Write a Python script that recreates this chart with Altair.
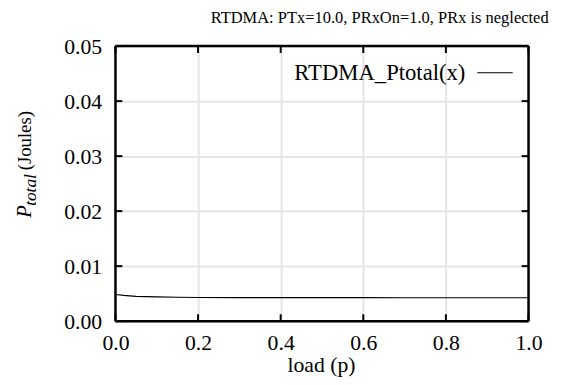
import altair as alt
import pandas as pd

loads = [0.0, 0.02, 0.05, 0.1, 0.15, 0.2, 0.3, 0.4, 0.5, 0.6, 0.7, 0.8, 0.9, 1.0]
ptotal = [0.00484, 0.00468, 0.00452, 0.0044, 0.00434, 0.0043, 0.00428, 0.00427, 0.00426, 0.00426, 0.00425, 0.00425, 0.00425, 0.00425]
x_ticks = [0.0, 0.2, 0.4, 0.6, 0.8, 1.0]
y_ticks = [0.0, 0.01, 0.02, 0.03, 0.04, 0.05]
title_text = "RTDMA: PTx=10.0, PRxOn=1.0, PRx is neglected"
legend_text = "RTDMA_Ptotal(x)"
x_title = "load (p)"

W, H = 419, 279
FONT = "Liberation Serif"

df = pd.DataFrame({"load": loads, "p": ptotal})
xs = alt.Scale(domain=[0, 1], nice=False)
ys = alt.Scale(domain=[0, 0.05], nice=False)

base = alt.Chart(df)
line = base.mark_line(color="black", strokeWidth=1.2).encode(
    x=alt.X("load:Q", scale=xs,
            axis=alt.Axis(values=x_ticks, format=".1f", title=None, grid=True,
                          gridColor="#e5e5e5", gridWidth=2, ticks=False, tickSize=0,
                          domain=False, labelFont=FONT, labelFontSize=22, labelColor="black",
                          labelPadding=12, labelFlush=False)),
    y=alt.Y("p:Q", scale=ys,
            axis=alt.Axis(values=y_ticks, format=".2f", title=None, grid=True,
                          gridColor="#e5e5e5", gridWidth=2, ticks=False, tickSize=0,
                          domain=False, labelFont=FONT, labelFontSize=22, labelColor="black",
                          labelPadding=14, labelFlush=False)),
)

xt = pd.DataFrame({"v": x_ticks})
yt = pd.DataFrame({"v": y_ticks})
xb = alt.Chart(xt).mark_rule(color="black", strokeWidth=2).encode(
    x=alt.X("v:Q", scale=xs), y=alt.value(H), y2=alt.value(H - 7))
xtop = alt.Chart(xt).mark_rule(color="black", strokeWidth=2).encode(
    x=alt.X("v:Q", scale=xs), y=alt.value(0), y2=alt.value(7))
yl = alt.Chart(yt).mark_rule(color="black", strokeWidth=2).encode(
    y=alt.Y("v:Q", scale=ys), x=alt.value(0), x2=alt.value(7))
yr = alt.Chart(yt).mark_rule(color="black", strokeWidth=2).encode(
    y=alt.Y("v:Q", scale=ys), x=alt.value(W), x2=alt.value(W - 7))

one = pd.DataFrame({"a": [1]})
def rule(x, x2, y, y2):
    return alt.Chart(one).mark_rule(color="black", strokeWidth=2.5).encode(
        x=alt.value(x), x2=alt.value(x2), y=alt.value(y), y2=alt.value(y2))
frame = [rule(0, W, 0, 0), rule(0, W, H, H), rule(0, 0, 0, H), rule(W, W, 0, H)]

def txt(s, x, y, size, style="normal", align="left", angle=0, baseline="alphabetic"):
    kw = dict(font=FONT, fontSize=size, fontStyle=style, align=align,
              baseline=baseline, color="black")
    if angle:
        kw["angle"] = angle
    return alt.Chart(pd.DataFrame({"t": [s]})).mark_text(**kw).encode(
        x=alt.value(x), y=alt.value(y), text="t:N")

title = txt(title_text, 268, -23, 16.7, align="center")
xlab = txt(x_title, 209, 331, 22, align="center")
leg_t = txt(legend_text, 355, 34, 23, align="right")
leg_l = alt.Chart(one).mark_rule(color="black", strokeWidth=1.2).encode(
    x=alt.value(367), x2=alt.value(403), y=alt.value(27))
yP = txt("P", -86, 174, 21, style="italic", angle=270)
ysub = txt("total", -81, 162, 17.5, style="italic", angle=270)
yJ = txt("(Joules)", -86, 126, 19, angle=270)

chart = alt.layer(line, xb, xtop, yl, yr, *frame, title, xlab, leg_t, leg_l, yP, ysub, yJ).properties(
    width=W, height=H,
    autosize=alt.AutoSizeParams(type="none"),
    padding={"left": 109, "top": 36, "right": 36, "bottom": 54},
).configure_view(stroke=None).configure_axis(labelFont=FONT).configure(background="white")

chart.save("out.html", embed_options={"renderer": "svg", "actions": False})
